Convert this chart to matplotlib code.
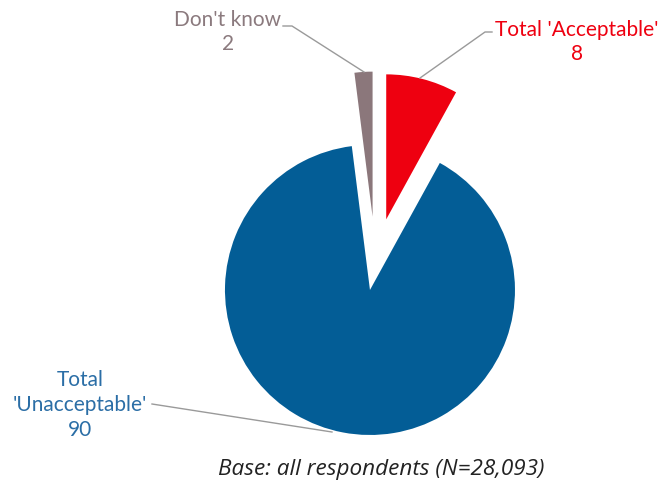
import matplotlib.pyplot as plt

# chart data
labels = ["Total 'Acceptable'", "Total\n'Unacceptable'", "Don't know"]
values = [8, 90, 2]
colors = ["#EE0010", "#035D96", "#8B777B"]
explode = [0.30, 0.20, 0.31]  # fraction of radius

W, H = 659, 485
R = 145
fig = plt.figure(figsize=(W / 100, H / 100), dpi=100)
ax = fig.add_axes([0, 0, 1, 1])

# pixel-ish coordinates, y measured from the top
def py(y):
    return H - y

# matplotlib's explode is in data units, so scale by the radius
wedges, _ = ax.pie(values, colors=colors, explode=[e * R for e in explode],
                   startangle=90, counterclock=False, radius=R,
                   center=(375.4, py(262.5)), frame=True)
ax.set_xlim(0, W)
ax.set_ylim(0, H)
ax.set_aspect("equal")
ax.axis("off")

font = "Lato"
fs = 15
line_kw = dict(color="#9A9A9A", lw=1)

# Don't know
ax.plot([283, 292, 364], [py(27), py(27), py(73)], **line_kw)
ax.text(228, py(32), "Don't know\n%d" % values[2], ha="center", va="center",
        fontsize=fs, color="#8B7A7E", family=font, linespacing=1.3)

# Acceptable
ax.plot([420, 485, 492], [py(79), py(33), py(33)], **line_kw)
ax.text(577, py(42), "%s\n%d" % (labels[0], values[0]), ha="center", va="center",
        fontsize=fs, color="#EE0010", family=font, linespacing=1.3)

# Unacceptable
ax.plot([152, 332], [py(405), py(433)], **line_kw)
ax.text(80, py(405), "%s\n%d" % (labels[1], values[1]), ha="center", va="center",
        fontsize=fs, color="#2B6EA6", family=font, linespacing=1.3)

ax.text(381, py(470), "Base: all respondents (N=28,093)", ha="center", va="center",
        fontsize=16.2, style="italic", color="#222222", family="Open Sans")

fig.savefig("out.png", dpi=100)
